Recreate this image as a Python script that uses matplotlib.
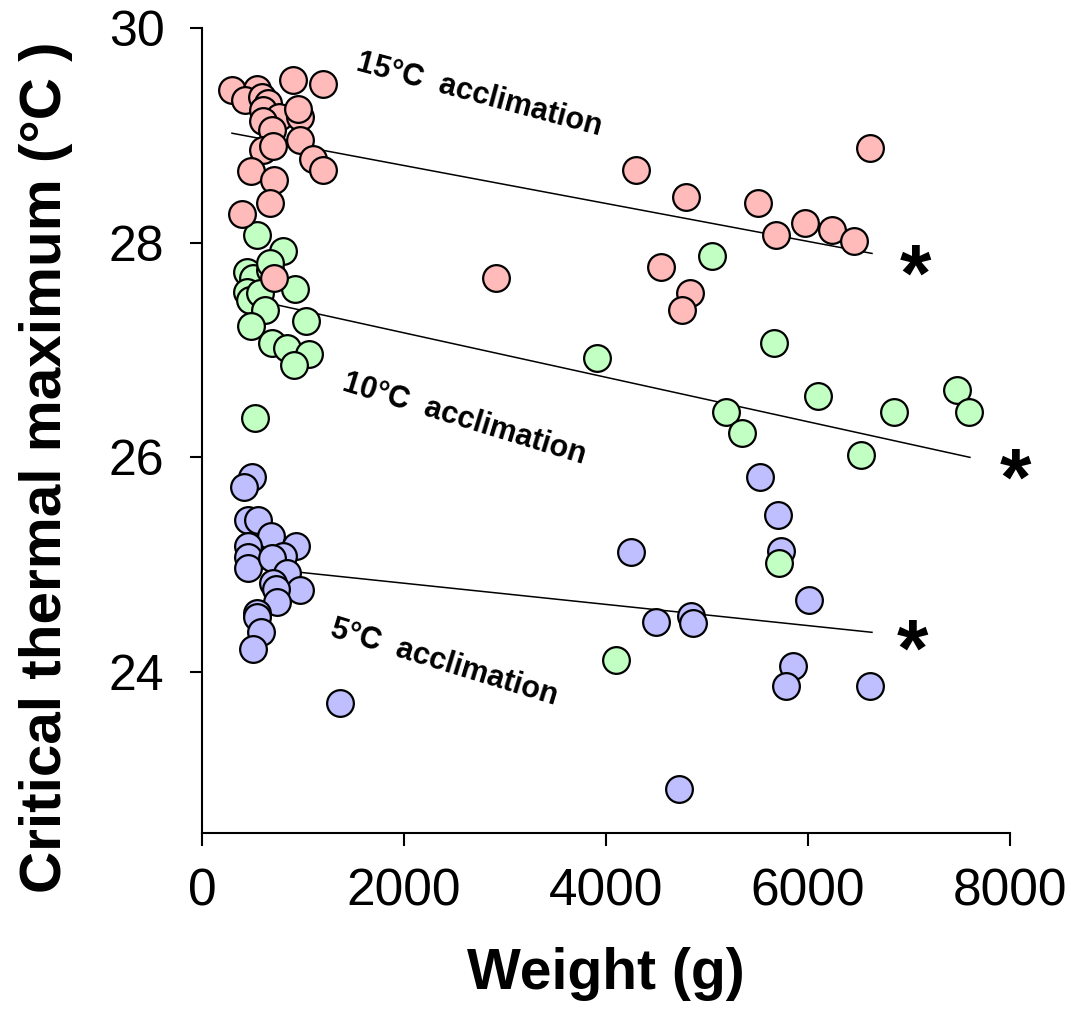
import matplotlib.pyplot as plt
import numpy as np

plt.rcParams['font.family'] = ['Liberation Sans', 'DejaVu Sans']

# 15 C acclimation: weight (g), CTmax (C)
w15 = [294, 904, 1201, 548, 426, 594, 653, 604, 765, 970, 953, 607, 690, 970,
       601, 700, 1102, 1195, 482, 713, 673, 399, 713,
       2911, 4297, 4792, 4545, 4832, 4752, 5505, 5683, 5970, 6238, 6455, 6614]
t15 = [29.42, 29.52, 29.48, 29.43, 29.33, 29.36, 29.30, 29.24, 29.17, 29.17, 29.25, 29.13, 29.05, 28.96,
       28.86, 28.90, 28.78, 28.68, 28.67, 28.58, 28.37, 28.27, 27.67,
       27.67, 28.68, 28.43, 27.77, 27.53, 27.37, 28.37, 28.07, 28.18, 28.12, 28.02, 28.88]

# 10 C acclimation
w10 = [548, 799, 443, 508, 673, 673, 921, 443, 475, 574, 624, 482, 1030, 690,
       845, 1062, 911, 525,
       3911, 5050, 5188, 5347, 5663, 6099, 6525, 6851, 7475, 7594, 5713, 4099]
t10 = [28.07, 27.92, 27.73, 27.67, 27.75, 27.81, 27.57, 27.54, 27.47, 27.53, 27.37, 27.22, 27.27, 27.07,
       27.02, 26.96, 26.86, 26.37,
       26.93, 27.88, 26.42, 26.23, 27.07, 26.57, 26.02, 26.42, 26.63, 26.42, 25.02, 24.11]

# 5 C acclimation
w5 = [492, 416, 458, 557, 680, 931, 458, 458, 458, 799, 690, 845, 700, 970,
      733, 740, 542, 542, 581, 508, 1366,
      4248, 4495, 4842, 4861, 4723, 5525, 5703, 5733, 6010, 5851, 5782, 6614]
t5 = [25.82, 25.72, 25.42, 25.42, 25.27, 25.17, 25.17, 25.07, 24.97, 25.08, 25.06, 24.92, 24.83, 24.76,
      24.77, 24.65, 24.55, 24.51, 24.37, 24.21, 23.71,
      25.12, 24.47, 24.52, 24.46, 22.91, 25.82, 25.46, 25.13, 24.67, 24.06, 23.87, 23.87]

# fitted regression lines (end points)
fit15_x = [297, 6634]
fit15_y = [29.02, 27.90]
fit10_x = [455, 7604]
fit10_y = [27.48, 26.00]
fit5_x = [455, 6634]
fit5_y = [24.98, 24.37]

fig = plt.figure(figsize=(10.71, 10.23), dpi=100)
ax = fig.add_axes([0.1886, 0.1857, 0.7544, 0.7869])

kw = dict(s=370, edgecolors='black', linewidths=1.6, zorder=3)
ax.scatter(w5, t5, c='#bfbfff', **kw)
ax.scatter(w10, t10, c='#c2ffc2', **kw)
ax.scatter(w15, t15, c='#ffbaba', **kw)

for fx, fy in [(fit15_x, fit15_y), (fit10_x, fit10_y), (fit5_x, fit5_y)]:
    ax.plot(fx, fy, color='black', lw=1.1, zorder=2)

# significance stars
for sx, sy in [(7060, 27.66), (8050, 25.76), (7030, 24.16)]:
    ax.text(sx, sy, '*', fontsize=58, fontweight='bold', ha='center', va='center', clip_on=False)

lab = dict(fontsize=22, fontweight='bold', ha='center', va='center', rotation_mode='anchor')
ax.text(2740, 29.38, '15°C  acclimation', rotation=-15, **lab)
ax.text(2600, 26.35, '10°C  acclimation', rotation=-17, **lab)
ax.text(2400, 24.09, '5°C  acclimation', rotation=-17, **lab)

ax.set_xlim(0, 8000)
ax.set_ylim(22.5, 30)
ax.set_xticks(np.arange(0, 8001, 2000))
ax.set_yticks([24, 26, 28, 30])

ax.spines['top'].set_visible(False)
ax.spines['right'].set_visible(False)
ax.spines['left'].set_linewidth(1.5)
ax.spines['bottom'].set_linewidth(1.5)
ax.tick_params(axis='both', direction='out', length=9, width=1.5)
ax.tick_params(axis='x', labelsize=37, pad=16)
ax.tick_params(axis='y', labelsize=36, pad=18)

ax.set_xlabel('Weight (g)', fontsize=41, fontweight='bold', labelpad=22)
ax.set_ylabel('Critical thermal maximum (°C )', fontsize=42, fontweight='bold')
ax.yaxis.set_label_coords(-0.16, 0.455)

fig.savefig('out.png', dpi=100)
